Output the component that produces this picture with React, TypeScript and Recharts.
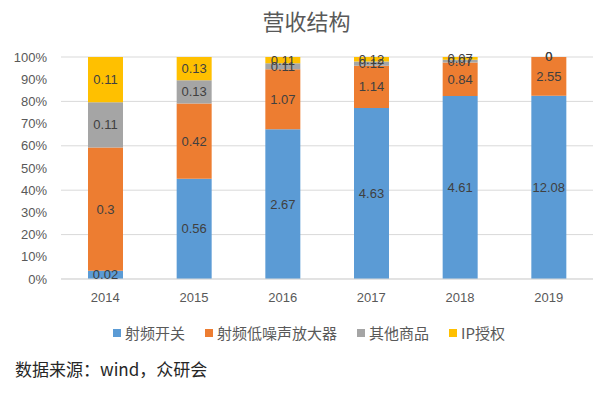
import { BarChart, Bar, XAxis, YAxis, CartesianGrid, LabelList } from 'recharts';

const years = ['2014', '2015', '2016', '2017', '2018', '2019'];
const rfSwitch = [0.02, 0.56, 2.67, 4.63, 4.61, 12.08];
const rfLna = [0.3, 0.42, 1.07, 1.14, 0.84, 2.55];
const otherGoods = [0.11, 0.13, 0.11, 0.12, 0.07, 0];
const ipLicense = [0.11, 0.13, 0.11, 0.12, 0.07, 0];

const series = [
  { key: 'rfSwitch', name: '射频开关', color: '#5B9BD5' },
  { key: 'rfLna', name: '射频低噪声放大器', color: '#ED7D31' },
  { key: 'otherGoods', name: '其他商品', color: '#A5A5A5' },
  { key: 'ipLicense', name: 'IP授权', color: '#FFC000' },
];

const data = years.map((year, i) => ({
  year,
  rfSwitch: rfSwitch[i],
  rfLna: rfLna[i],
  otherGoods: otherGoods[i],
  ipLicense: ipLicense[i],
}));

const font = '"Liberation Sans", "Noto Sans CJK SC", sans-serif';
const cjk = '"Noto Sans CJK SC", sans-serif';

// centred value label, drawn even when the segment has zero height
const renderValue = (props: any) => {
  const { x, y, width, height, value } = props;
  if (value === undefined || value === null) return null;
  return (
    <text
      x={Number(x) + Number(width) / 2}
      y={Number(y) + Number(height) / 2}
      textAnchor="middle"
      dominantBaseline="central"
      fontSize={13}
      fill="#404040"
      fontFamily={font}
    >
      {value}
    </text>
  );
};

export default function App() {
  return (
    <div style={{ position: 'absolute', left: 0, top: 0, width: 613, height: 394, background: '#fff', fontFamily: font }}>
      {/* title */}
      <div
        style={{
          position: 'absolute',
          top: 4,
          left: 0,
          width: 613,
          textAlign: 'center',
          fontFamily: cjk,
          fontSize: 22,
          color: '#595959',
        }}
      >
        营收结构
      </div>

      <BarChart
        width={613}
        height={394}
        data={data}
        stackOffset="expand"
        margin={{ top: 57, right: 20, left: 0, bottom: 85 }}
        barSize={35}
      >
        <CartesianGrid vertical={false} stroke="#d9d9d9" />
        <XAxis
          dataKey="year"
          tickLine={false}
          axisLine={{ stroke: '#d9d9d9' }}
          tick={{ fontSize: 13, fill: '#595959', fontFamily: font }}
          tickMargin={8}
        />
        <YAxis
          width={61}
          domain={[0, 1]}
          ticks={[0, 0.1, 0.2, 0.3, 0.4, 0.5, 0.6, 0.7, 0.8, 0.9, 1]}
          tickFormatter={(v: number) => `${Math.round(v * 100)}%`}
          tickLine={false}
          axisLine={false}
          tickMargin={8}
          tick={{ fontSize: 13, fill: '#595959', fontFamily: font }}
        />
        {series.map((s) => (
          <Bar
            key={s.key}
            dataKey={s.key}
            name={s.name}
            stackId="a"
            fill={s.color}
            minPointSize={0.01}
            isAnimationActive={false}
          >
            <LabelList dataKey={s.key} content={renderValue} />
          </Bar>
        ))}
      </BarChart>

      {/* legend */}
      <div
        style={{
          position: 'absolute',
          top: 322,
          left: 113,
          display: 'flex',
          gap: 20,
          fontFamily: cjk,
          fontSize: 15,
          color: '#595959',
        }}
      >
        {series.map((s) => (
          <div key={s.key} style={{ display: 'flex', alignItems: 'center', gap: 4 }}>
            <span style={{ display: 'inline-block', width: 8, height: 8, background: s.color }} />
            <span>{s.name}</span>
          </div>
        ))}
      </div>

      {/* source */}
      <div
        style={{
          position: 'absolute',
          top: 356,
          left: 15,
          fontFamily: cjk,
          fontSize: 17,
          color: '#262626',
        }}
      >
        数据来源：wind，众研会
      </div>
    </div>
  );
}
